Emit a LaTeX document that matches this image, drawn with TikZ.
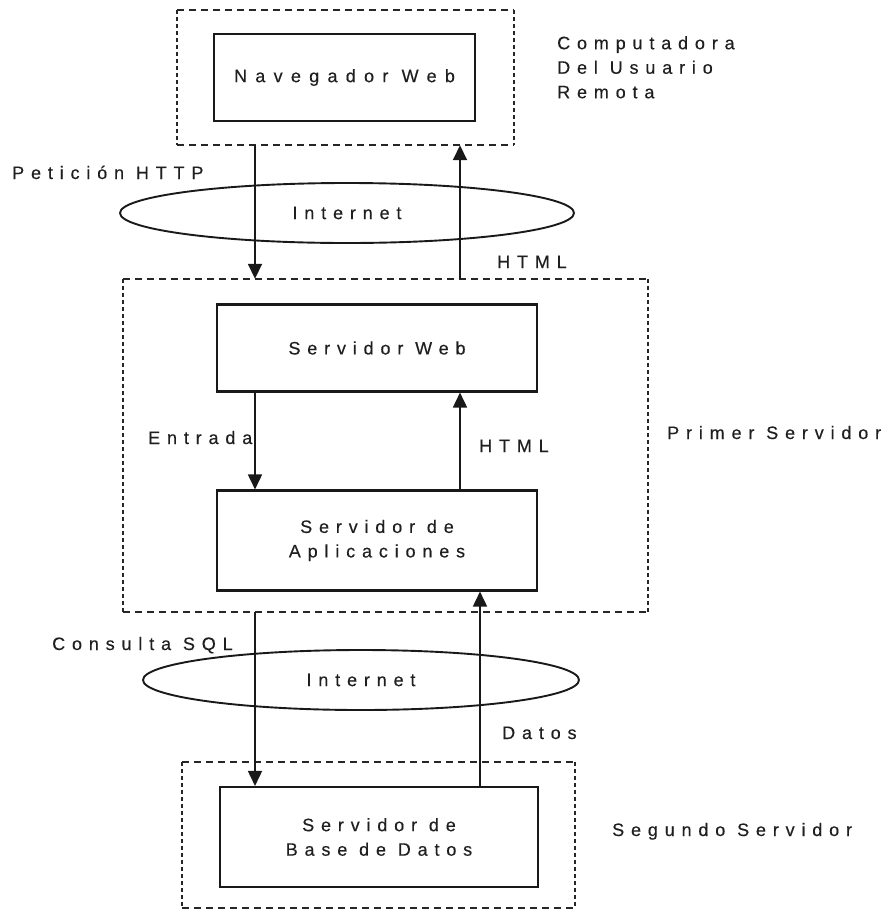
\documentclass[tikz,border=0pt]{standalone}
\usepackage{fontspec}
\setmainfont{Liberation Sans}[LetterSpace=38,FakeBold=0.3]
\usetikzlibrary{arrows.meta,shapes.geometric,calc}

% dashed outline of a machine (group node): long dashes on top/bottom, short on the sides
\newcommand\groupframe[1]{%
  \draw[hside] (#1.north west) -- (#1.north east) (#1.south west) -- (#1.south east);
  \draw[vside] (#1.north west) -- (#1.south west) (#1.north east) -- (#1.south east);}

\begin{document}
\begin{tikzpicture}[x=1pt,y=-1pt,
  every node/.style={font=\fontsize{18}{24.5}\selectfont, text=black!88},
  box/.style={draw=black!90, line width=2.1pt, inner sep=0pt, align=center},
  group/.style={draw=none, inner sep=0pt},
  hside/.style={draw=black!85, line width=1.7pt, dash pattern=on 7pt off 5pt},
  vside/.style={draw=black!85, line width=1.9pt, dash pattern=on 4pt off 3pt},
  cloud/.style={ellipse, draw=black!90, line width=1.9pt, inner sep=0pt},
  flow/.style={draw=black!90, line width=1.7pt, -{Triangle[length=15pt,width=14pt]}},
  lbl/.style={anchor=base west, inner sep=0pt}]

\fill[white] (0,0) rectangle (885,911);
\useasboundingbox (0,0) rectangle (885,911);

% remote user computer
\node[group, minimum width=337pt, minimum height=135pt] (topg) at (345.5,77.5) {};
\groupframe{topg}
\node[box, minimum width=261pt, minimum height=87pt] (nav) at (344.5,77.5)
  {\addfontfeatures{LetterSpace=46}Navegador Web};
\node[anchor=north west, inner sep=0pt, align=left] (remote) at (557,36)
  {Computadora\\Del Usuario\\Remota};

% first internet link
\node[cloud, minimum width=454pt, minimum height=60pt] (net1) at (347,213) {Internet};
\node[lbl] (req) at (12,179) {Petición HTTP};
\node[lbl] (html1) at (497,268) {HTML};

% first server
\node[group, minimum width=525pt, minimum height=333pt] (midg) at (385.5,445.5) {};
\groupframe{midg}
\node[box, minimum width=320pt, minimum height=87pt] (web) at (377,348) {Servidor Web};
\node[box, minimum width=320pt, minimum height=100pt] (app) at (377,540.5) {Servidor de\\Aplicaciones};
\node[lbl] (entrada) at (148,444) {Entrada};
\node[lbl] (html2) at (479,452) {HTML};
\node[lbl] (first) at (667,439) {Primer Servidor};

% second internet link
\node[cloud, minimum width=436pt, minimum height=60pt] (net2) at (361,680) {Internet};
\node[lbl] (sql) at (52,650) {Consulta SQL};
\node[lbl] (datos) at (502,739) {Datos};

% second server
\node[group, minimum width=393pt, minimum height=146pt] (botg) at (378.5,835) {};
\groupframe{botg}
\node[box, minimum width=318pt, minimum height=100pt] (db) at (379,837) {Servidor de\\Base de Datos};
\node[lbl] (second) at (612,836) {Segundo Servidor};

% request / response columns
\coordinate (down) at (255,0);
\coordinate (up) at (460,0);
\coordinate (upd) at (480,0);

\draw[flow] (down |- topg.south) -- (down |- midg.north);
\draw[flow] (up |- midg.north) -- (up |- topg.south);
\draw[flow] (down |- web.south) -- (down |- app.north);
\draw[flow] (up |- app.north) -- (up |- web.south);
\draw[flow] (down |- midg.south) -- (down |- db.north);
\draw[flow] (upd |- db.north) -- (upd |- app.south);
\end{tikzpicture}
\end{document}
